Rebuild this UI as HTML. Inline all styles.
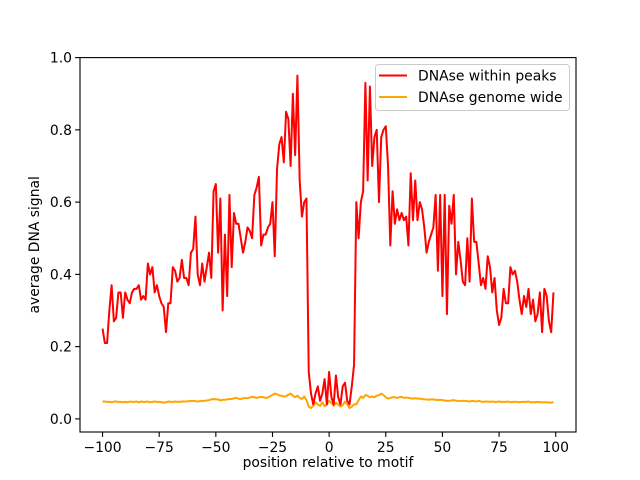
<!DOCTYPE html>
<html><head><meta charset="utf-8"><style>
body{margin:0;background:#fff;}
svg{display:block;font-family:"DejaVu Sans","Liberation Sans",sans-serif;}
</style></head><body>
<svg id="chart" width="640" height="480">
<rect x="0" y="0" width="640" height="480" fill="#fff"/>
<g id="plot"></g>
</svg>
<script>
const peaks = [0.25,0.21,0.21,0.30,0.37,0.27,0.28,0.35,0.35,0.28,0.35,0.33,0.32,0.35,0.36,0.36,0.37,0.33,0.34,0.33,
0.43,0.40,0.42,0.35,0.37,0.34,0.32,0.31,0.24,0.32,0.32,0.42,0.41,0.38,0.39,0.44,0.39,0.39,0.37,0.46,
0.47,0.56,0.40,0.37,0.43,0.38,0.42,0.46,0.39,0.63,0.65,0.46,0.61,0.30,0.51,0.34,0.62,0.42,0.57,0.54,
0.54,0.50,0.46,0.49,0.53,0.52,0.50,0.62,0.64,0.67,0.48,0.51,0.51,0.53,0.54,0.60,0.45,0.69,0.76,0.78,
0.71,0.85,0.83,0.70,0.90,0.73,0.95,0.66,0.56,0.60,0.61,0.13,0.07,0.04,0.07,0.09,0.05,0.07,0.11,0.04,
0.13,0.06,0.04,0.12,0.06,0.04,0.09,0.10,0.05,0.04,0.09,0.15,0.60,0.50,0.60,0.63,0.93,0.66,0.92,0.70,
0.78,0.80,0.60,0.78,0.80,0.81,0.70,0.48,0.63,0.54,0.58,0.55,0.57,0.55,0.56,0.48,0.68,0.55,0.66,0.55,
0.60,0.58,0.53,0.46,0.49,0.51,0.53,0.62,0.41,0.62,0.34,0.62,0.29,0.59,0.54,0.62,0.40,0.49,0.44,0.38,
0.37,0.50,0.38,0.61,0.49,0.49,0.43,0.37,0.39,0.36,0.45,0.42,0.35,0.39,0.30,0.26,0.28,0.36,0.32,0.32,
0.42,0.40,0.41,0.38,0.33,0.29,0.34,0.31,0.36,0.29,0.33,0.27,0.29,0.35,0.24,0.36,0.34,0.27,0.24,0.35];
const genome = [0.048,0.048,0.047,0.047,0.046,0.048,0.048,0.047,0.047,0.046,0.047,0.046,0.048,0.047,0.047,0.048,0.046,0.048,0.047,0.047,
0.048,0.046,0.047,0.048,0.047,0.047,0.046,0.045,0.046,0.048,0.047,0.047,0.048,0.047,0.047,0.048,0.048,0.048,0.049,0.050,
0.050,0.049,0.048,0.049,0.050,0.050,0.051,0.052,0.054,0.055,0.054,0.054,0.051,0.053,0.053,0.054,0.055,0.055,0.057,0.058,
0.056,0.055,0.057,0.058,0.057,0.059,0.061,0.060,0.058,0.060,0.061,0.060,0.058,0.059,0.063,0.066,0.070,0.068,0.065,0.064,
0.062,0.063,0.067,0.070,0.064,0.060,0.064,0.058,0.055,0.062,0.052,0.034,0.030,0.036,0.046,0.040,0.036,0.046,0.035,0.040,
0.050,0.044,0.036,0.045,0.040,0.034,0.038,0.048,0.040,0.030,0.034,0.040,0.040,0.052,0.062,0.058,0.066,0.064,0.060,0.062,
0.060,0.064,0.066,0.070,0.066,0.060,0.056,0.058,0.060,0.060,0.058,0.060,0.061,0.058,0.059,0.058,0.057,0.056,0.057,0.056,
0.056,0.055,0.054,0.054,0.053,0.054,0.054,0.053,0.052,0.053,0.052,0.051,0.050,0.050,0.051,0.052,0.050,0.050,0.049,0.050,
0.050,0.049,0.048,0.050,0.049,0.048,0.050,0.048,0.047,0.048,0.048,0.047,0.048,0.047,0.047,0.048,0.047,0.047,0.047,0.048,
0.046,0.047,0.047,0.047,0.046,0.047,0.047,0.047,0.048,0.046,0.046,0.046,0.047,0.046,0.046,0.046,0.046,0.045,0.045,0.047];
const xTicks = [-100,-75,-50,-25,0,25,50,75,100];
const yTicks = [0.0,0.2,0.4,0.6,0.8,1.0];
const xStart = -100;

const L=80,R=576,T=57.6,B=432;
const xmin=-109.95,xmax=108.95,ymin=-0.0363,ymax=1.0;
const FS=13.9;
const sx=v=>L+(v-xmin)/(xmax-xmin)*(R-L);
const sy=v=>B-(v-ymin)/(ymax-ymin)*(B-T);
const NS='http://www.w3.org/2000/svg';
const g=document.getElementById('plot');
function mk(tag,attrs,parent){const e=document.createElementNS(NS,tag);for(const k in attrs)e.setAttribute(k,attrs[k]);(parent||g).appendChild(e);return e;}

function series(vals,color,name){
  const d=vals.map((v,i)=>(i?'L':'M')+sx(xStart+i).toFixed(2)+' '+sy(v).toFixed(2)).join(' ');
  const p=mk('path',{d:d,fill:'none',stroke:color,'stroke-width':2,'stroke-linejoin':'round'});
  
  
}
series(genome,'#ffa500','genome-wide-line');
series(peaks,'#ff0000','within-peaks-line');

const frame=mk('rect',{x:L,y:T,width:R-L,height:B-T,fill:'none',stroke:'#000','stroke-width':1.1});



xTicks.forEach(t=>{
  const x=sx(t);
  const tk=mk('line',{x1:x,x2:x,y1:B,y2:B+4.9,stroke:'#000','stroke-width':1.1});
  
  
  const tx=mk('text',{x:x,y:B+20,'font-size':FS,'text-anchor':'middle',fill:'#000'});
  tx.textContent=(t<0?'\u2212'+(-t):t);
  
  
});
yTicks.forEach(t=>{
  const y=sy(t);
  const tk=mk('line',{x1:L-4.9,x2:L,y1:y,y2:y,stroke:'#000','stroke-width':1.1});
  
  
  const tx=mk('text',{x:L-8,y:y+5,'font-size':FS,'text-anchor':'end',fill:'#000'});
  tx.textContent=t.toFixed(1);
  
  
});
const xl=mk('text',{x:(L+R)/2,y:467,'font-size':FS,'text-anchor':'middle'});
xl.textContent='position relative to motif';


const yl=mk('text',{x:0,y:0,'font-size':FS,'text-anchor':'middle',transform:'translate(39,'+((T+B)/2)+') rotate(-90)'});
yl.textContent='average DNA signal';



const lg=mk('g',{});


mk('rect',{x:375.5,y:64.5,width:194,height:46,rx:3,fill:'#fff','fill-opacity':0.8,stroke:'#ccc','stroke-width':1},lg);
const e1=mk('line',{x1:379,x2:407,y1:75.5,y2:75.5,stroke:'#ff0000','stroke-width':2},lg);


const t1=mk('text',{x:418,y:80.5,'font-size':FS},lg);t1.textContent='DNAse within peaks';


const e2=mk('line',{x1:379,x2:407,y1:97,y2:97,stroke:'#ffa500','stroke-width':2},lg);


const t2=mk('text',{x:418,y:102,'font-size':FS},lg);t2.textContent='DNAse genome wide';


</script>
</body></html>
